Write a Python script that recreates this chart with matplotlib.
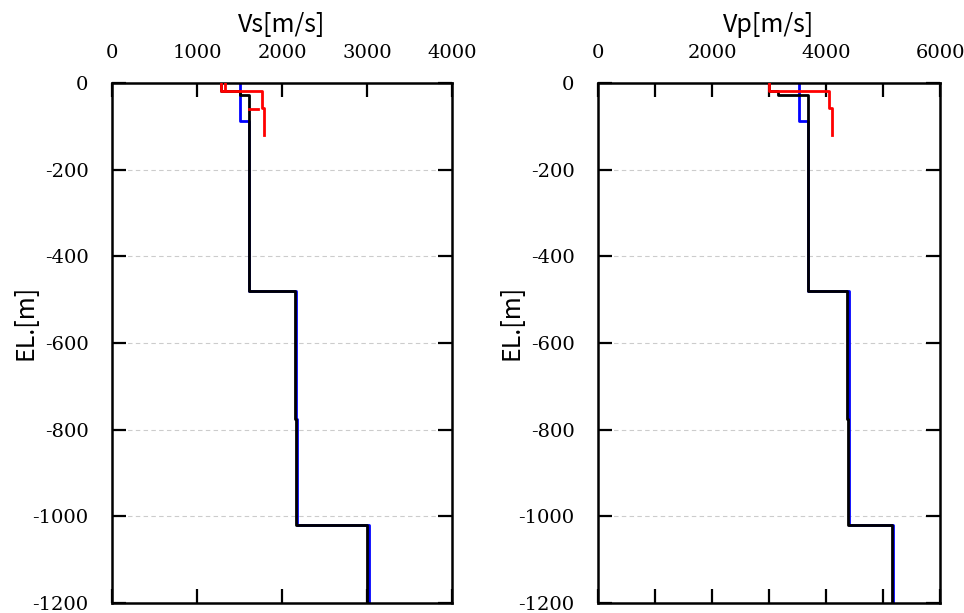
import matplotlib
matplotlib.use("Agg")
import matplotlib.pyplot as plt
from matplotlib.ticker import FuncFormatter
import numpy as np

# ---------------- data ----------------
# layer boundaries (elevation, m) and velocities of each layer
black_bounds = [0, -18, -27, -480, -775, -1020, -1200]
black_vs = [1280, 1500, 1615, 2150, 2165, 3000]
black_vp = [3000, 3160, 3680, 4370, 4390, 5150]

blue_bounds = [0, -88, -480, -775, -1020, -1200]
blue_vs = [1500, 1615, 2165, 2180, 3020]
blue_vp = [3530, 3680, 4395, 4410, 5180]

red_bounds = [0, -18, -58, -120]
red_vs = [1280, 1760, 1790]
red_vp = [3000, 4050, 4100]

red2_bounds = [0, -15]
red2_vs = [1330]

red3_elev = [-59, -59]
red3_vs = [1615, 1720]

vs_ticks = [0, 1000, 2000, 3000, 4000]
vp_ticks = [0, 1000, 2000, 3000, 4000, 5000, 6000]
el_ticks = [0, -200, -400, -600, -800, -1000, -1200]


def profile(bounds, vals):
    xs, ys = [], []
    for i, v in enumerate(vals):
        xs += [v, v]
        ys += [bounds[i], bounds[i + 1]]
    return xs, ys


W, H = 964, 613
fig = plt.figure(figsize=(W / 100, H / 100), dpi=100)
top_px, bot_px = 83, 603
bot = 1 - bot_px / H
hgt = (bot_px - top_px) / H
ax1 = fig.add_axes([112 / W, bot, (452 - 112) / W, hgt])
ax2 = fig.add_axes([598 / W, bot, (940 - 598) / W, hgt])

serif = "DejaVu Serif"
gothic = ["Noto Sans CJK JP", "DejaVu Sans"]
LW = 2.0


def style(ax, xmax, xticks, labstep):
    ax.set_xlim(0, xmax)
    ax.set_ylim(-1200, 0)
    ax.set_xticks(xticks)
    ax.set_yticks(el_ticks)
    ax.xaxis.set_ticks_position("both")
    ax.yaxis.set_ticks_position("both")
    ax.tick_params(axis="x", which="major", direction="in", length=10, width=1.6,
                   labeltop=True, labelbottom=False, pad=15)
    ax.tick_params(axis="y", which="major", direction="in", length=10, width=1.6,
                   labelleft=True, labelright=False, pad=17)
    ax.xaxis.set_major_formatter(
        FuncFormatter(lambda v, p: ("%d" % v) if int(round(v)) % labstep == 0 else ""))
    ax.yaxis.set_major_formatter(FuncFormatter(lambda v, p: "%d" % v))
    for lab in ax.get_xticklabels() + ax.get_yticklabels():
        lab.set_fontfamily(serif)
        lab.set_fontsize(14)
    for sp in ax.spines.values():
        sp.set_linewidth(1.8)
    for y in el_ticks[1:-1]:
        ax.axhline(y, color="#cccccc", lw=0.8, ls=(0, (4, 3)), zorder=0)


style(ax1, 4000, vs_ticks, 1000)
style(ax2, 6000, vp_ticks, 2000)

# Vs panel
x, y = profile(blue_bounds, blue_vs)
ax1.plot(x, y, color="#0000ff", lw=LW, zorder=2)
x, y = profile(black_bounds, black_vs)
ax1.plot(x, y, color="black", lw=LW, zorder=3)
x, y = profile(red_bounds, red_vs)
ax1.plot(x, y, color="#ff0000", lw=LW, zorder=4)
x, y = profile(red2_bounds, red2_vs)
ax1.plot(x, y, color="#ff0000", lw=LW, zorder=4)
ax1.plot(red3_vs, red3_elev, color="#ff0000", lw=LW, zorder=4)

# Vp panel
x, y = profile(blue_bounds, blue_vp)
ax2.plot(x, y, color="#0000ff", lw=LW, zorder=2)
x, y = profile(black_bounds, black_vp)
ax2.plot(x, y, color="black", lw=LW, zorder=3)
x, y = profile(red_bounds, red_vp)
ax2.plot(x, y, color="#ff0000", lw=LW, zorder=4)

# titles and labels
fig.text(282 / W, 1 - 25 / H, "Vs[m/s]", ha="center", va="center",
         fontsize=18, family=gothic)
fig.text(769 / W, 1 - 25 / H, "Vp[m/s]", ha="center", va="center",
         fontsize=18, family=gothic)
fig.text(25 / W, 1 - 322 / H, "EL.[m]", ha="center", va="center",
         rotation=90, fontsize=18, family=gothic)
fig.text(511 / W, 1 - 322 / H, "EL.[m]", ha="center", va="center",
         rotation=90, fontsize=18, family=gothic)

fig.savefig("out.png", dpi=100)
